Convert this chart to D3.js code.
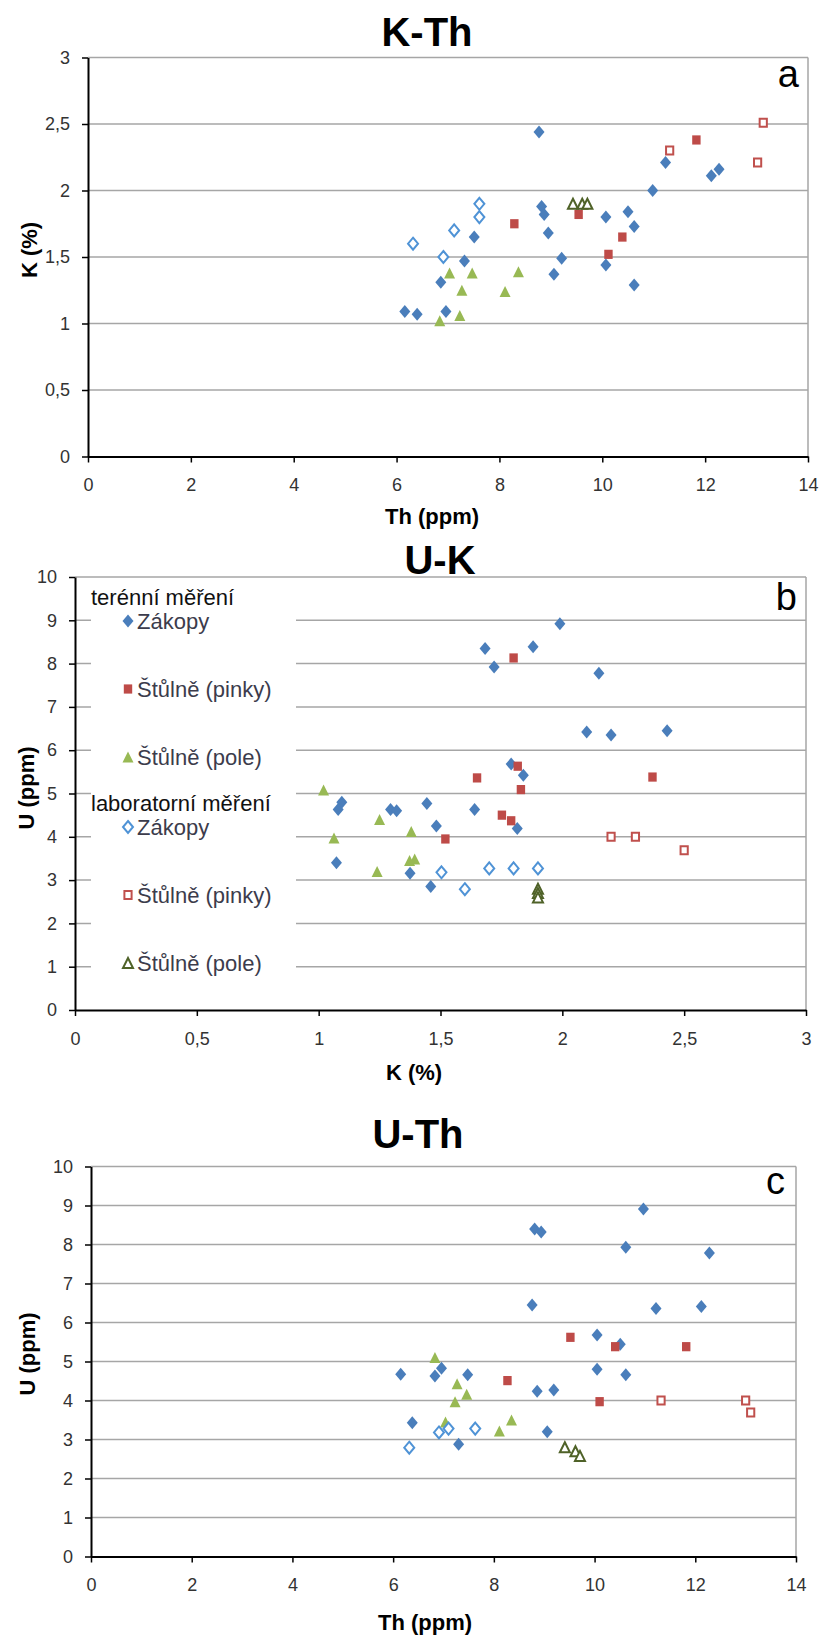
<!DOCTYPE html>
<html>
<head>
<meta charset="utf-8">
<script src="https://cdn.jsdelivr.net/npm/d3@7"></script>
<style>
    body { margin: 0; background: #fff; }
    svg text { font-family: "Liberation Sans", Arial, sans-serif; }
</style>
</head>
<body>
<svg id="charts"></svg>
<script>
/*--------------------------------------------------------------------------------
----- DATA
--------------------------------------------------------------------------------*/

// K-Th chart: [Th (ppm), K (%)]
const kth_field_zakopy = [[6.16,1.09],[6.40,1.07],[6.86,1.31],[6.96,1.09],[7.32,1.47],[7.51,1.65],[8.77,2.44],[8.82,1.88],[8.87,1.82],[8.95,1.68],[9.06,1.37],[9.21,1.49],[10.07,1.80],[10.07,1.44],[10.50,1.84],[10.62,1.73],[10.62,1.29],[10.98,2.00],[11.23,2.21],[12.12,2.11],[12.27,2.16]];
const kth_field_pinky = [[8.29,1.75],[9.54,1.82],[10.12,1.52],[10.39,1.65],[11.83,2.38]];
const kth_field_pole = [[6.84,1.02],[7.03,1.38],[7.23,1.06],[7.27,1.25],[7.47,1.38],[8.11,1.24],[8.37,1.39]];
const kth_lab_zakopy = [[6.32,1.60],[6.91,1.50],[7.12,1.70],[7.61,1.90],[7.61,1.80]];
const kth_lab_pinky = [[11.31,2.30],[13.02,2.21],[13.13,2.51]];
const kth_lab_pole = [[9.43,1.90],[9.61,1.90],[9.71,1.90]];

// U-K chart: [K (%), U (ppm)]
const uk_field_zakopy = [[1.683,8.35],[1.72,7.92],[1.88,8.39],[1.99,8.92],[2.15,7.78],[2.10,6.42],[2.20,6.35],[2.43,6.45],[1.79,5.68],[1.84,5.42],[1.095,4.80],[1.08,4.63],[1.295,4.63],[1.32,4.60],[1.444,4.77],[1.64,4.63],[1.483,4.25],[1.815,4.19],[1.073,3.40],[1.375,3.16],[1.46,2.85]];
const uk_field_pinky = [[1.80,8.13],[1.65,5.36],[1.817,5.63],[1.83,5.09],[2.37,5.38],[1.752,4.50],[1.79,4.37],[1.52,3.95]];
const uk_field_pole = [[1.02,5.08],[1.063,3.97],[1.25,4.40],[1.38,4.12],[1.373,3.45],[1.394,3.49],[1.24,3.20]];
const uk_lab_zakopy = [[1.504,3.18],[1.60,2.79],[1.70,3.27],[1.80,3.27],[1.90,3.27]];
const uk_lab_pinky = [[2.20,4.00],[2.30,4.00],[2.50,3.69]];
const uk_lab_pole = [[1.90,2.80],[1.90,2.70],[1.90,2.60]];

// U-Th chart: [Th (ppm), U (ppm)]
const uth_field_zakopy = [[8.81,8.40],[8.94,8.32],[10.97,8.91],[10.62,7.93],[12.28,7.78],[8.76,6.45],[11.22,6.36],[12.12,6.41],[10.05,5.68],[10.51,5.44],[10.05,4.80],[10.62,4.66],[6.15,4.67],[6.83,4.63],[6.96,4.83],[7.48,4.66],[8.86,4.24],[9.19,4.27],[6.38,3.43],[7.30,2.88],[9.06,3.20]];
const uth_field_pinky = [[9.52,5.62],[10.41,5.38],[11.82,5.38],[8.27,4.51],[10.10,3.97]];
const uth_field_pole = [[6.83,5.10],[7.27,4.43],[7.46,4.16],[7.23,3.97],[7.04,3.45],[8.35,3.50],[8.11,3.22]];
const uth_lab_zakopy = [[6.32,2.79],[6.91,3.18],[7.10,3.28],[7.63,3.28]];
const uth_lab_pinky = [[11.32,4.00],[13.00,4.00],[13.10,3.69]];
const uth_lab_pole = [[9.41,2.80],[9.62,2.70],[9.71,2.58]];

// Tick values of the axes
const th_ticks = [0, 2, 4, 6, 8, 10, 12, 14];
const k_ticks = [0, 0.5, 1, 1.5, 2, 2.5, 3];
const u_ticks = [0, 1, 2, 3, 4, 5, 6, 7, 8, 9, 10];

// Legend texts (Czech, as in the original)
const legend_groups = ["terénní měření", "laboratorní měření"];
const legend_names = ["Zákopy", "Štůlně (pinky)", "Štůlně (pole)"];

/*--------------------------------------------------------------------------------
----- STYLES OF THE SIX SERIES
--------------------------------------------------------------------------------*/

const series_styles = [
    { shape: "diamond", fill: "#4a7ebb", stroke: "none" },
    { shape: "square", fill: "#be4b48", stroke: "none" },
    { shape: "triangle", fill: "#98b954", stroke: "none" },
    { shape: "diamond", fill: "#fff", stroke: "#4f93d6" },
    { shape: "square", fill: "#fff", stroke: "#c0504d" },
    { shape: "triangle", fill: "#fff", stroke: "#4f6228" }
];

// Function returning the path of one marker centred on (cx, cy)
function marker_path(shape, cx, cy, open) {
    if (shape === "diamond") {
        const w = open ? 5 : 5.5, h = open ? 6 : 6.5;
        return `M${cx},${cy - h}L${cx + w},${cy}L${cx},${cy + h}L${cx - w},${cy}Z`;
    }
    if (shape === "square") {
        const w = open ? 3.6 : 4.2, h = open ? 4 : 4.6;
        return `M${cx - w},${cy - h}H${cx + w}V${cy + h}H${cx - w}Z`;
    }
    const w = open ? 5 : 5.5, h = open ? 5 : 5.5;
    return `M${cx},${cy - h}L${cx + w},${cy + h}L${cx - w},${cy + h}Z`;
}

// Function to draw the markers of one series
function draw_series(g, data, style, x_scale, y_scale) {
    const open = style.stroke !== "none";
    g.append("g")
        .selectAll("path")
        .data(data)
        .enter()
        .append("path")
        .attr("d", d => marker_path(style.shape, x_scale(d[0]), y_scale(d[1]), open))
        .attr("fill", style.fill)
        .attr("stroke", style.stroke)
        .attr("stroke-width", open ? 2 : 0);
}

const comma_format = d => String(d).replace(".", ",");

/*--------------------------------------------------------------------------------
----- ONE SCATTER CHART
--------------------------------------------------------------------------------*/

function draw_chart(svg, cfg) {
    const x_scale = d3.scaleLinear().domain(cfg.x_domain).range([cfg.left, cfg.right]);
    const y_scale = d3.scaleLinear().domain(cfg.y_domain).range([cfg.bottom, cfg.top]);
    const g = svg.append("g");

    // Horizontal gridlines (gray), also the top border of the plot
    g.append("g")
        .selectAll("line")
        .data(cfg.y_ticks.filter(d => d > 0))
        .enter()
        .append("line")
        .attr("x1", cfg.left)
        .attr("x2", cfg.right)
        .attr("y1", d => y_scale(d))
        .attr("y2", d => y_scale(d))
        .attr("stroke", "#a6a6a6")
        .attr("stroke-width", 1.5);

    // Right border of the plot
    g.append("line")
        .attr("x1", cfg.right).attr("x2", cfg.right)
        .attr("y1", cfg.top).attr("y2", cfg.bottom)
        .attr("stroke", "#a6a6a6")
        .attr("stroke-width", 1.5);

    // Legend box hides the gridlines on the left part of chart b
    if (cfg.legend) {
        const lg = g.append("g");
        lg.append("rect")
            .attr("x", cfg.left + 16).attr("y", cfg.top + 2)
            .attr("width", 205).attr("height", cfg.bottom - cfg.top - 4)
            .attr("fill", "#fff");
        const rows = [];
        legend_groups.forEach((name, gi) => {
            rows.push({ heading: name, y: 597 + gi * 206 });
            legend_names.forEach((n, i) => rows.push({ name: n, style: series_styles[gi * 3 + i], y: 621 + gi * 206 + i * 68 }));
        });
        rows.forEach(r => {
            if (r.heading) {
                lg.append("text").attr("x", 91).attr("y", r.y + 8)
                    .attr("font-size", 22).attr("fill", "#111").text(r.heading);
            } else {
                const open = r.style.stroke !== "none";
                lg.append("path")
                    .attr("d", marker_path(r.style.shape, 128, r.y, open))
                    .attr("fill", r.style.fill)
                    .attr("stroke", r.style.stroke)
                    .attr("stroke-width", open ? 2 : 0);
                lg.append("text").attr("x", 137).attr("y", r.y + 8)
                    .attr("font-size", 22).attr("fill", "#3c3c4c").text(r.name);
            }
        });
    }

    // Axes
    const x_axis = g.append("g")
        .attr("transform", `translate(0,${cfg.bottom})`)
        .call(d3.axisBottom(x_scale).tickValues(cfg.x_ticks).tickFormat(comma_format)
            .tickSize(6).tickSizeOuter(0).tickPadding(16));
    const y_axis = g.append("g")
        .attr("transform", `translate(${cfg.left},0)`)
        .call(d3.axisLeft(y_scale).tickValues(cfg.y_ticks).tickFormat(comma_format)
            .tickSize(6).tickSizeOuter(0).tickPadding(12));
    [x_axis, y_axis].forEach(ax => {
        ax.select(".domain").attr("stroke", "#000").attr("stroke-width", 2);
        ax.selectAll(".tick line").attr("stroke", "#000").attr("stroke-width", 1.5);
        ax.selectAll("text").attr("font-size", 18).attr("fill", "#333")
            .style("font-family", "'Liberation Sans', Arial, sans-serif");
    });

    // Markers of the six series
    cfg.series.forEach((data, i) => draw_series(g, data, series_styles[i], x_scale, y_scale));

    // Titles, axis labels and panel letter
    g.append("text").attr("x", cfg.title_x).attr("y", cfg.title_y)
        .attr("text-anchor", "middle").attr("font-size", 40).attr("font-weight", "bold")
        .text(cfg.title);
    g.append("text").attr("x", cfg.x_label_x).attr("y", cfg.x_label_y)
        .attr("text-anchor", "middle").attr("font-size", 22).attr("font-weight", "bold")
        .text(cfg.x_label);
    g.append("text")
        .attr("transform", `translate(${cfg.y_label_x},${cfg.y_label_y}) rotate(-90)`)
        .attr("text-anchor", "middle").attr("font-size", 22).attr("font-weight", "bold")
        .text(cfg.y_label);
    g.append("text").attr("x", cfg.letter_x).attr("y", cfg.letter_y)
        .attr("text-anchor", "end").attr("font-size", 38).text(cfg.letter);
}

/*--------------------------------------------------------------------------------
----- PAGE
--------------------------------------------------------------------------------*/

const svg = d3.select("#charts").attr("width", 822).attr("height", 1640);

draw_chart(svg, {
    left: 88, right: 808, top: 57.5, bottom: 456.5,
    x_domain: [0, 14], y_domain: [0, 3], x_ticks: th_ticks, y_ticks: k_ticks,
    series: [kth_field_zakopy, kth_field_pinky, kth_field_pole, kth_lab_zakopy, kth_lab_pinky, kth_lab_pole],
    title: "K-Th", title_x: 427, title_y: 46,
    x_label: "Th (ppm)", x_label_x: 432, x_label_y: 524,
    y_label: "K (%)", y_label_x: 37, y_label_y: 250,
    letter: "a", letter_x: 799, letter_y: 87
});

draw_chart(svg, {
    left: 75, right: 806, top: 577, bottom: 1010,
    x_domain: [0, 3], y_domain: [0, 10], x_ticks: k_ticks, y_ticks: u_ticks,
    series: [uk_field_zakopy, uk_field_pinky, uk_field_pole, uk_lab_zakopy, uk_lab_pinky, uk_lab_pole],
    title: "U-K", title_x: 440, title_y: 574,
    x_label: "K (%)", x_label_x: 414, x_label_y: 1080,
    y_label: "U (ppm)", y_label_x: 34, y_label_y: 788,
    letter: "b", letter_x: 797, letter_y: 610,
    legend: true
});

draw_chart(svg, {
    left: 91, right: 796, top: 1166.5, bottom: 1556.5,
    x_domain: [0, 14], y_domain: [0, 10], x_ticks: th_ticks, y_ticks: u_ticks,
    series: [uth_field_zakopy, uth_field_pinky, uth_field_pole, uth_lab_zakopy, uth_lab_pinky, uth_lab_pole],
    title: "U-Th", title_x: 418, title_y: 1148,
    x_label: "Th (ppm)", x_label_x: 425, x_label_y: 1630,
    y_label: "U (ppm)", y_label_x: 35, y_label_y: 1354,
    letter: "c", letter_x: 785, letter_y: 1194
});
</script>
</body>
</html>
